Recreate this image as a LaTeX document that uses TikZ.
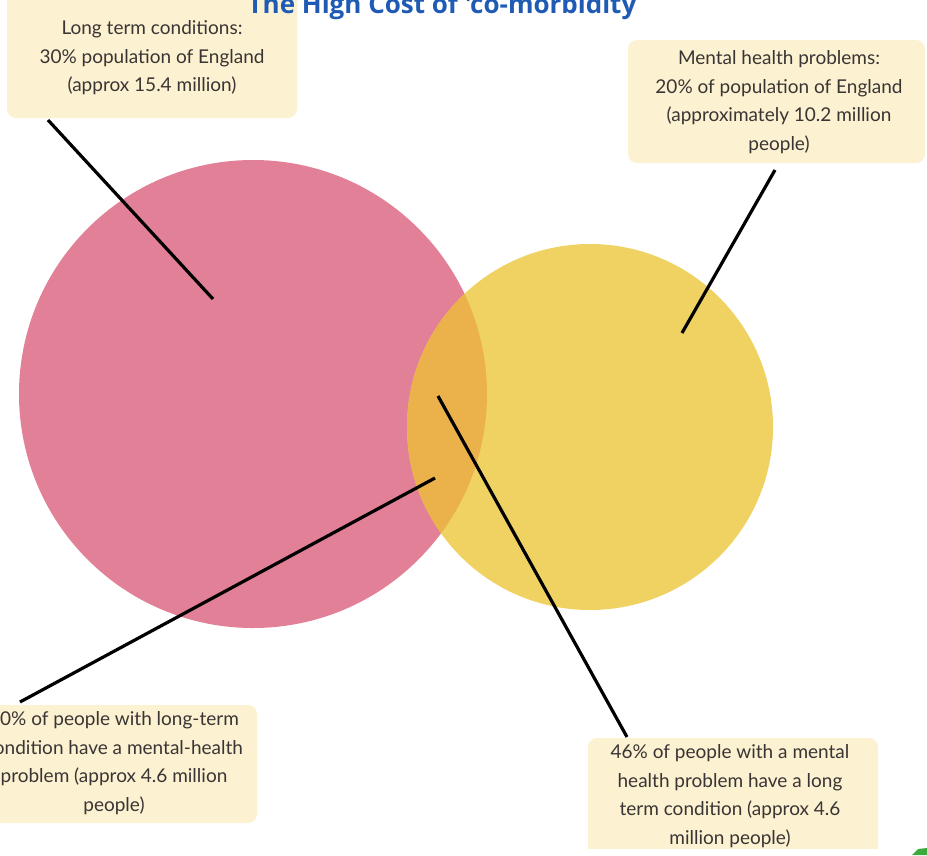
\documentclass[tikz,border=0pt]{standalone}
\usepackage{fontspec}
\setmainfont{Lato}
\newfontfamily\titlefont{Open Sans}
\definecolor{pinkc}{HTML}{E18096}
\definecolor{yellowc}{HTML}{F0D262}
\definecolor{overlapc}{HTML}{EBB24B}
\definecolor{boxfill}{HTML}{FCF1D0}
\definecolor{txt}{HTML}{3A3535}
\definecolor{titleblue}{HTML}{1F5BB5}
\definecolor{greenbit}{HTML}{3DAA3D}
\tikzset{
  boxbg/.style={fill=boxfill, rounded corners=9pt},
  label text/.style={text=txt, align=center, font=\fontsize{19}{28.5}\selectfont, inner sep=0pt},
  leader/.style={draw=black, line width=3.2pt},
}
\begin{document}
\begin{tikzpicture}[x=1pt,y=-1pt]
\useasboundingbox (0,0) rectangle (927,855);
\clip (0,0) rectangle (927,855);
\fill[white] (0,0) rectangle (927,855);
% circles
\fill[pinkc] (253,394) circle (234pt);
\fill[yellowc] (590,427) circle (183pt);
\begin{scope}
  \clip (253,394) circle (234pt);
  \fill[overlapc] (590,427) circle (183pt);
\end{scope}
% boxes
\fill[boxbg] (7,-20) rectangle (297,118);
\node[label text] (tl) at (152,58) {Long term conditions:\\30\% population of England\\(approx 15.4 million)};
\fill[boxbg] (628,40) rectangle (925,163);
\node[label text] (tr) at (779,102) {Mental health problems:\\20\% of population of England\\(approximately 10.2 million\\people)};
\fill[boxbg] (-40,705) rectangle (257,823);
\node[label text] (bl) at (114,763) {30\% of people with long-term\\condition have a mental-health\\problem (approx 4.6 million\\people)};
\begin{scope}
  \clip (0,0) rectangle (927,848);
  \fill[boxbg] (588,738) rectangle (878,900);
  \node[label text] (br) at (730,796) {46\% of people with a mental\\health problem have a long\\term condition (approx 4.6\\million people)};
\end{scope}
% title
\node[font=\titlefont\bfseries\fontsize{26}{28}\selectfont, text=titleblue, anchor=base, inner sep=0pt] (title) at (442,13) {The High Cost of 'co-morbidity};
% leader lines
\coordinate (tlend) at (48,120);
\coordinate (tlin) at (213,299);
\coordinate (trend) at (775,170);
\coordinate (trin) at (682,333);
\coordinate (blend) at (20,702);
\coordinate (blin) at (435,478);
\coordinate (brend) at (627,737);
\coordinate (brin) at (438,396);
\draw[leader] (tlend) -- (tlin);
\draw[leader] (trend) -- (trin);
\draw[leader] (blend) -- (blin);
\draw[leader] (brin) -- (brend);
% green corner bit
\fill[greenbit] (912,855) -- (918,849) -- (927,848) -- (927,855) -- cycle;
\end{tikzpicture}
\end{document}
